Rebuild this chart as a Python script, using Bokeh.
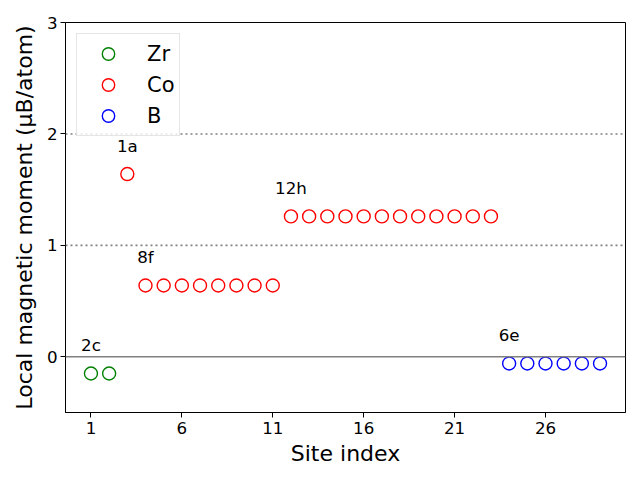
from bokeh.plotting import figure
from bokeh.models import Range1d, FixedTicker, Span, Legend, LegendItem, ColumnDataSource
from bokeh.core.properties import value
from bokeh.embed import file_html
from bokeh.resources import INLINE

# Data
zr_sites = [1, 2]
zr_moment = [-0.15, -0.15]
co_sites = list(range(3, 24))
co_moment = [1.64] + [0.64] * 8 + [1.26] * 12
b_sites = list(range(24, 30))
b_moment = [-0.06] * 6

wyckoff_labels = ["2c", "1a", "8f", "12h", "6e"]
wyckoff_first_site = [1, 3, 4, 12, 24]
wyckoff_moment = [-0.15, 1.64, 0.64, 1.26, -0.06]
label_offset = 0.2

x_ticks = [1, 6, 11, 16, 21, 26]
y_ticks = [0, 1, 2, 3]

FONT = "DejaVu Sans"

p = figure(width=640, height=480, output_backend="svg", toolbar_location=None,
           x_range=Range1d(-0.4, 30.4), y_range=Range1d(-0.5, 3.0),
           min_border_left=65, min_border_right=15, min_border_top=22, min_border_bottom=68)
p.xgrid.visible = False
p.ygrid.visible = False
p.outline_line_color = "black"
p.outline_line_width = 1
p.background_fill_color = "white"
p.border_fill_color = "white"

for ax in (p.xaxis[0], p.yaxis[0]):
    ax.major_tick_out = 5
    ax.major_tick_in = 0
    ax.minor_tick_out = 0
    ax.minor_tick_in = 0
    ax.axis_line_color = "black"
    ax.major_label_text_font = FONT
    ax.major_label_text_font_size = "16.7px"
    ax.major_label_text_color = "black"
    ax.axis_label_text_font = FONT
    ax.axis_label_text_font_size = "22px"
    ax.axis_label_text_font_style = "normal"
    ax.axis_label_text_color = "black"

p.xaxis.ticker = FixedTicker(ticks=x_ticks)
p.yaxis.ticker = FixedTicker(ticks=y_ticks)
p.xaxis.major_label_standoff = 4
p.yaxis.major_label_standoff = 3
p.xaxis.axis_label = "Site index"
p.yaxis.axis_label = "Local magnetic moment (μB/atom)"
p.xaxis.axis_label_standoff = 4
p.yaxis.axis_label_standoff = 7

# reference lines
p.add_layout(Span(location=0, dimension="width", line_color="gray", line_width=1.6))
for yv in (1, 2):
    p.add_layout(Span(location=yv, dimension="width", line_color="gray", line_width=1.6,
                      line_dash="2 3"))

r_zr = p.scatter(zr_sites, zr_moment, marker="circle", size=13, fill_color=None,
                 line_color="green", line_width=1.4)
r_co = p.scatter(co_sites, co_moment, marker="circle", size=13, fill_color=None,
                 line_color="red", line_width=1.4)
r_b = p.scatter(b_sites, b_moment, marker="circle", size=13, fill_color=None,
                line_color="blue", line_width=1.4)

lab_src = ColumnDataSource(dict(x=wyckoff_first_site,
                                y=[m + label_offset for m in wyckoff_moment],
                                t=wyckoff_labels))
p.text(x="x", y="y", text="t", source=lab_src, text_align="center",
       text_baseline="alphabetic", text_font=value(FONT), text_font_size="16.7px",
       text_color="black", y_offset=-6)

legend = Legend(items=[LegendItem(label="Zr", renderers=[r_zr]),
                       LegendItem(label="Co", renderers=[r_co]),
                       LegendItem(label="B", renderers=[r_b])],
                location="top_left", margin=11, padding=4, spacing=0,
                glyph_width=54, glyph_height=31, label_height=31, label_standoff=12,
                label_text_font=FONT, label_text_font_size="21px",
                label_text_color="black",
                border_line_color="#cccccc", border_line_width=1,
                background_fill_color="white", background_fill_alpha=0.8)
p.add_layout(legend)

open("out.html", "w").write(file_html(p, INLINE))
